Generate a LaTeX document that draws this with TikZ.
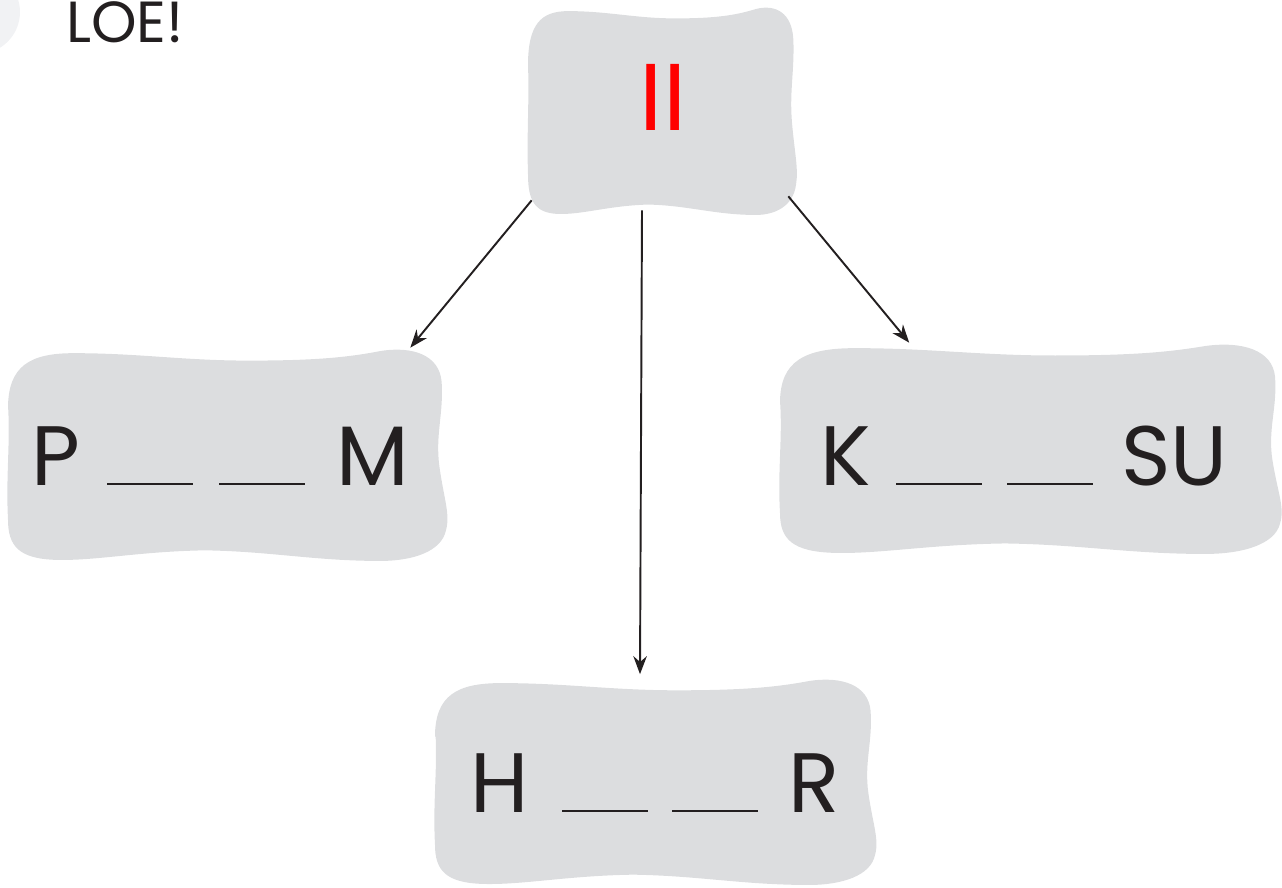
\documentclass[tikz,border=0pt]{standalone}
\usepackage{fontspec}
\setmainfont{Poppins}
\usetikzlibrary{arrows.meta,calc}
\definecolor{blobgray}{HTML}{DCDDDF}
\definecolor{ink}{HTML}{231F20}
\definecolor{dotgray}{HTML}{F1F2F4}
\tikzset{every picture/.style={x=0.02cm,y=-0.02cm}}
\tikzset{word box/.style={inner sep=0pt, font=\fontsize{48}{58}\selectfont, text=ink}}
\tikzset{link/.style={draw=ink, line width=1.1pt, -{Stealth[length=0.36cm,width=0.27cm]}}}
\newcommand{\blank}{\rule{1.72cm}{0.04cm}}
\newcommand{\blob}[4]{\fill[blobgray, shift={(#1,#2)}, xscale=#3, yscale=-#4]
  (-1,0.45) .. controls (-1,0.85) and (-0.9,0.97) .. (-0.7,0.97)
  .. controls (-0.4,0.97) and (-0.2,0.9) .. (0.1,0.9)
  .. controls (0.4,0.9) and (0.55,0.93) .. (0.7,0.99)
  .. controls (0.85,1.04) and (0.97,0.95) .. (0.98,0.7)
  .. controls (0.99,0.4) and (0.95,0.2) .. (0.97,-0.1)
  .. controls (0.99,-0.4) and (1.02,-0.55) .. (1.0,-0.7)
  .. controls (0.98,-0.9) and (0.85,-0.99) .. (0.7,-0.99)
  .. controls (0.4,-0.99) and (0.2,-0.9) .. (-0.1,-0.89)
  .. controls (-0.4,-0.9) and (-0.6,-0.99) .. (-0.78,-0.98)
  .. controls (-0.95,-0.97) and (-1,-0.85) .. (-1,-0.6)
  .. controls (-1.01,-0.2) and (-0.99,0.1) .. cycle;}

\begin{document}
\begin{tikzpicture}
    \useasboundingbox (0,0) rectangle (1282,888);
    \fill[dotgray] (-22,12) circle[radius=0.84cm];
    \node[anchor=west, inner sep=0pt, text=ink, font=\fontsize{33}{40}\selectfont] (title) at (66,22) {LOE!};
    % blobs
    \blob{662}{112}{134}{104}
    \blob{227}{456}{219}{106}
    \blob{1030}{450}{250}{105}
    \blob{655}{783}{220}{103}
    % words
    \node[word box, minimum width=5.36cm, minimum height=4.16cm] (two) at (662,112) {};
    \node[word box, text=red, font=\fontsize{54}{64}\selectfont] (twotext) at (663,97) {II};
    \node[word box, minimum width=8.76cm, minimum height=4.24cm] (pm) at (220,456)
        {P\hspace{0.54cm}\blank\hspace{0.52cm}\blank\hspace{0.62cm}M};
    \node[word box, minimum width=10.02cm, minimum height=4.2cm] (ksu) at (1024,456)
        {K\hspace{0.5cm}\blank\hspace{0.5cm}\blank\hspace{0.56cm}SU};
    \node[word box, minimum width=8.82cm, minimum height=4.14cm] (hr) at (655,783)
        {H\hspace{0.66cm}\blank\hspace{0.48cm}\blank\hspace{0.6cm}R};
    % links
    \draw[link] ($(two.south west)+(4,-16)$) -- ($(pm.north east)+(-29,-2)$);
    \draw[link] ($(two.south)+(-20,-6)$) -- ($(hr.north)+(-15,-5)$);
    \draw[link] ($(two.south east)+(-8,-20)$) -- ($(ksu.north west)+(136,-8)$);
\end{tikzpicture}
\end{document}
